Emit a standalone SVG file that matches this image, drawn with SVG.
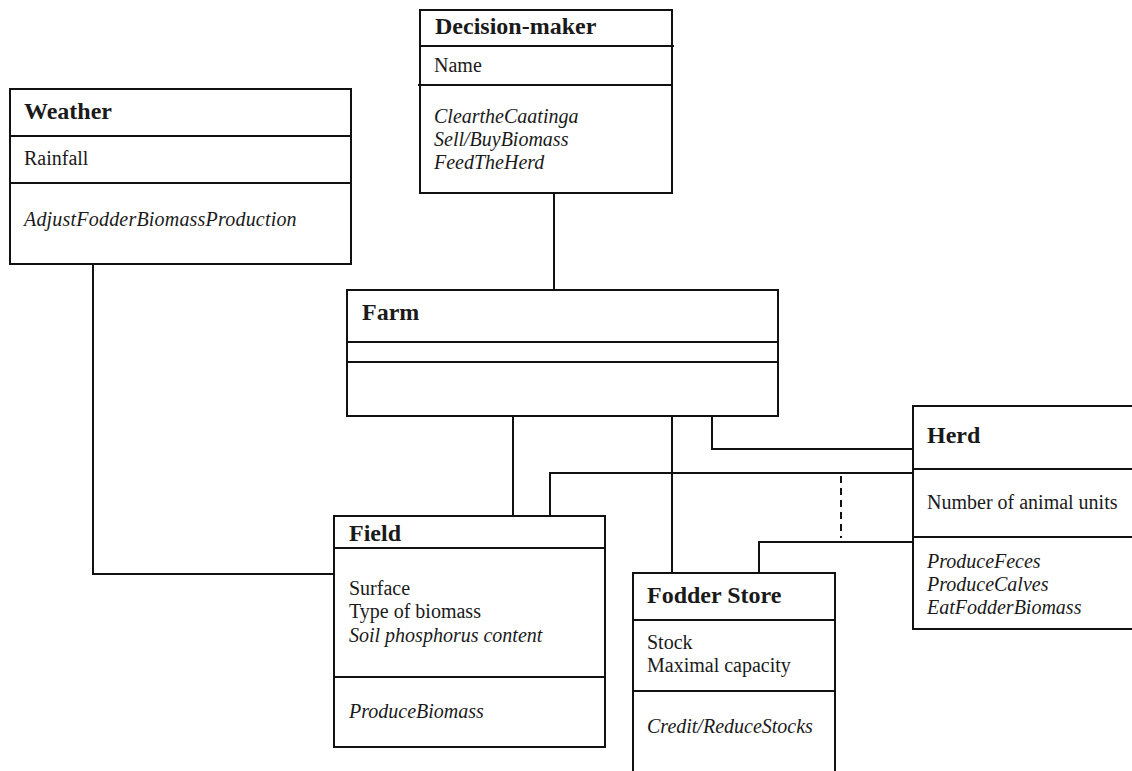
<svg xmlns="http://www.w3.org/2000/svg" width="1132" height="771" viewBox="0 0 1132 771">
<style>
.box{fill:#fff;stroke:#111;stroke-width:2}
.ln{stroke:#111;stroke-width:2;fill:none}
.t{font-family:"Liberation Serif","Times New Roman",serif;font-weight:bold;font-size:24px;fill:#1a1a1a}
.a{font-family:"Liberation Serif","Times New Roman",serif;font-size:20px;fill:#1a1a1a}
.i{font-family:"Liberation Serif","Times New Roman",serif;font-size:20px;font-style:italic;fill:#1a1a1a}
</style>
<rect width="1132" height="771" fill="#fff"/>
<g id="connectors" class="ln">
<path d="M554 193V290"/>
<path d="M93 264V574H334"/>
<path d="M513 416V516"/>
<path d="M672 416V573"/>
<path d="M712 416V449H913"/>
<path d="M550 516V473H913"/>
<path d="M759 573V542H913"/>
<path d="M841 476V538" stroke-dasharray="7,5"/>
</g>
<g id="decision-maker">
<rect class="box" x="420" y="10" width="252" height="183"/>
<line class="ln" x1="420" y1="46" x2="674" y2="46"/>
<line class="ln" x1="418" y1="85" x2="672" y2="85"/>
<text class="t" x="435" y="34">Decision-maker</text>
<text class="a" x="434" y="72">Name</text>
<text class="i" x="434" y="123">CleartheCaatinga</text>
<text class="i" x="434" y="146">Sell/BuyBiomass</text>
<text class="i" x="434" y="169">FeedTheHerd</text>
</g>
<g id="weather">
<rect class="box" x="10" y="89" width="341" height="175"/>
<line class="ln" x1="10" y1="136" x2="351" y2="136"/>
<line class="ln" x1="10" y1="183" x2="351" y2="183"/>
<text class="t" x="24" y="119">Weather</text>
<text class="a" x="24" y="165">Rainfall</text>
<text class="i" x="24" y="226" letter-spacing="0.2">AdjustFodderBiomassProduction</text>
</g>
<g id="farm">
<rect class="box" x="347" y="290" width="431" height="126"/>
<line class="ln" x1="347" y1="342" x2="778" y2="342"/>
<line class="ln" x1="347" y1="362" x2="778" y2="362"/>
<text class="t" x="362" y="320">Farm</text>
</g>
<g id="field">
<rect class="box" x="334" y="516" width="271" height="231"/>
<line class="ln" x1="334" y1="548" x2="605" y2="548"/>
<line class="ln" x1="334" y1="677" x2="605" y2="677"/>
<text class="t" x="349" y="541">Field</text>
<text class="a" x="349" y="595">Surface</text>
<text class="a" x="349" y="618">Type of biomass</text>
<text class="i" x="349" y="642">Soil phosphorus content</text>
<text class="i" x="349" y="718">ProduceBiomass</text>
</g>
<g id="fodder-store">
<rect class="box" x="633" y="573" width="202" height="220"/>
<line class="ln" x1="633" y1="620" x2="835" y2="620"/>
<line class="ln" x1="633" y1="691" x2="835" y2="691"/>
<text class="t" x="647" y="603">Fodder Store</text>
<text class="a" x="647" y="649">Stock</text>
<text class="a" x="647" y="672">Maximal capacity</text>
<text class="i" x="647" y="733">Credit/ReduceStocks</text>
</g>
<g id="herd">
<rect class="box" x="913" y="406" width="240" height="223"/>
<line class="ln" x1="913" y1="469" x2="1132" y2="469"/>
<line class="ln" x1="913" y1="537" x2="1132" y2="537"/>
<text class="t" x="927" y="443">Herd</text>
<text class="a" x="927" y="509">Number of animal units</text>
<text class="i" x="927" y="568">ProduceFeces</text>
<text class="i" x="927" y="591">ProduceCalves</text>
<text class="i" x="927" y="614">EatFodderBiomass</text>
</g>
</svg>
